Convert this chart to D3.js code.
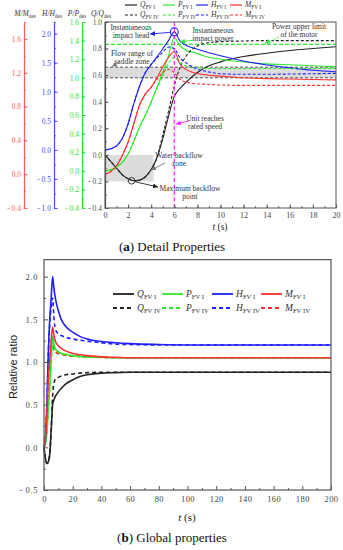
<!DOCTYPE html>
<html>
<head>
<meta charset="utf-8">
<script src="https://cdnjs.cloudflare.com/ajax/libs/d3/7.8.5/d3.min.js"></script>
<style>
  body { margin: 0; background: #fff; }
  svg { display: block; font-family: "Liberation Serif", "DejaVu Serif", serif; }
</style>
</head>
<body>
<div id="chart"></div>
<script>
// ---- (a) detail properties, 0-20 s, each quantity on its own axis
var tDetail = [0,0.5,1,1.5,2,2.5,3,3.5,4,4.5,5,5.5,6,6.5,7,8,9,10,12,14,16,18,20];
var qDetail1 = [0,-0.05,-0.1,-0.15,-0.18,-0.195,-0.19,-0.165,-0.11,-0.02,0.12,0.29,0.44,0.5,0.545,0.62,0.67,0.7,0.74,0.765,0.785,0.8,0.814];
var qDetail4 = [0,-0.05,-0.1,-0.15,-0.18,-0.195,-0.19,-0.165,-0.11,-0.02,0.15,0.33,0.52,0.66,0.74,0.82,0.845,0.852,0.857,0.86,0.86,0.86,0.86];
var pDetail1 = [0,0.01,0.04,0.09,0.18,0.32,0.47,0.6,0.74,0.9,1.06,1.24,1.43,1.34,1.3,1.26,1.22,1.2,1.17,1.15,1.14,1.13,1.12];
var pDetail4 = [0,0.01,0.04,0.09,0.18,0.32,0.47,0.6,0.74,0.88,1.02,1.16,1.22,1.16,1.13,1.11,1.1,1.1,1.1,1.1,1.1,1.1,1.1];
var hDetail1 = [0,0.02,0.07,0.2,0.45,0.8,1.1,1.33,1.47,1.6,1.74,1.88,2.03,1.87,1.8,1.73,1.67,1.62,1.53,1.46,1.41,1.37,1.345];
var hDetail4 = [0,0.02,0.07,0.2,0.45,0.8,1.1,1.33,1.47,1.58,1.68,1.77,1.74,1.58,1.5,1.39,1.34,1.31,1.3,1.3,1.305,1.31,1.317];
var mDetail1 = [0,0.03,0.1,0.22,0.38,0.6,0.82,0.95,1.03,1.14,1.27,1.38,1.45,1.3,1.24,1.19,1.17,1.16,1.14,1.13,1.125,1.12,1.115];
var mDetail4 = [0,0.03,0.1,0.22,0.38,0.6,0.82,0.95,1.03,1.12,1.2,1.24,1.2,1.12,1.09,1.07,1.06,1.055,1.05,1.05,1.05,1.05,1.05];

var saddleBand = [0.58, 0.66];      // Q/Qdes
var powerLimit = 1.36;              // P/Pdes
var backflowZone = { t: [0, 4.2], q: [-0.2, 0] };
var maxBackflow = { t: 2.3, q: -0.195 };
var ratedSpeedT = 6;
var peakHead = { t: 6, h: 2.03 };

var mTicks = [-0.4,0,0.4,0.8,1.2,1.6];
var hTicks = [-1,-0.5,0,0.5,1,1.5,2];
var pTicks = [-0.4,-0.2,0,0.2,0.4,0.6,0.8,1,1.2,1.4,1.6];
var qTicks = [-0.4,-0.2,0,0.2,0.4,0.6,0.8,1];
var tTicksDetail = [0,2,4,6,8,10,12,14,16,18,20];

// ---- (b) global properties, 0-200 s
var tGlobal = [0,1,2,3,4,5,6,7,8,10,12,15,20,25,30,40,50,60,80,100,150,200];
var qGlobal1 = [0,-0.13,-0.19,-0.17,-0.08,0.2,0.5,0.56,0.6,0.65,0.69,0.74,0.79,0.83,0.85,0.87,0.875,0.88,0.88,0.88,0.88,0.88];
var qGlobal4 = [0,-0.13,-0.19,-0.17,-0.08,0.2,0.6,0.76,0.8,0.82,0.835,0.85,0.86,0.87,0.875,0.88,0.88,0.88,0.88,0.88,0.88,0.88];
var pGlobal1 = [0,0.04,0.18,0.45,0.72,1.02,1.3,1.2,1.15,1.12,1.1,1.09,1.075,1.065,1.06,1.055,1.05,1.05,1.05,1.05,1.05,1.05];
var pGlobal4 = [0,0.04,0.18,0.45,0.72,0.98,1.2,1.13,1.11,1.1,1.09,1.08,1.07,1.063,1.058,1.053,1.05,1.05,1.05,1.05,1.05,1.05];
var hGlobal1 = [0,0.1,0.5,1.1,1.5,1.75,2.0,1.85,1.74,1.6,1.5,1.42,1.35,1.3,1.27,1.24,1.225,1.215,1.205,1.2,1.2,1.2];
var hGlobal4 = [0,0.1,0.5,1.1,1.45,1.65,1.75,1.5,1.38,1.33,1.31,1.29,1.27,1.255,1.245,1.225,1.21,1.205,1.2,1.2,1.2,1.2];
var mGlobal1 = [0,0.12,0.4,0.8,1.02,1.25,1.41,1.3,1.24,1.19,1.16,1.13,1.1,1.085,1.075,1.06,1.055,1.05,1.05,1.05,1.05,1.05];
var mGlobal4 = [0,0.12,0.4,0.8,1.02,1.18,1.25,1.15,1.12,1.1,1.09,1.08,1.07,1.065,1.06,1.055,1.05,1.05,1.05,1.05,1.05,1.05];

var ratioTicks = [-0.5,0,0.5,1,1.5,2];
var tTicksGlobal = [0,20,40,60,80,100,120,140,160,180,200];

var BLACK = "#222", GREEN = "#2ee82e", BLUE = "#1f1fff", RED = "#ff2d2d", MAGENTA = "#ff22ff", FRAME = "#555";

var svg = d3.select("#chart").append("svg").attr("width", 343).attr("height", 550);

// arrow markers
var defs = svg.append("defs");
function marker(id, color) {
  defs.append("marker").attr("id", id)
    .attr("viewBox", "0 0 6 6").attr("refX", 6).attr("refY", 3)
    .attr("markerWidth", 5).attr("markerHeight", 5)
    .attr("markerUnits", "userSpaceOnUse").attr("orient", "auto")
    .append("path").attr("d", "M0,0L6,3L0,6Z").attr("fill", color);
}
marker("arBlue", BLUE); marker("arGreen", GREEN); marker("arGray", "#777");
marker("arMag", MAGENTA); marker("arBlack", BLACK);

function fmtSigned(f) {
  return function(d) { return d < 0 ? "- " + f(-d) : f(d); };
}

// text with italic symbol + subscript
function rich(sel, parts, size) {
  parts.forEach(function(p) {
    var ts = sel.append("tspan").text(p.t);
    if (p.i) ts.attr("font-style", "italic");
    if (p.sub) ts.attr("font-size", size * 0.7).attr("dy", size * 0.25);
  });
}

function drawSeries(g, x, y, ts, vals, color, dashed, w, dash) {
  var line = d3.line().x(function(d, i) { return x(ts[i]); })
    .y(function(d) { return y(d); }).curve(d3.curveMonotoneX);
  g.append("path").datum(vals).attr("d", line)
    .attr("fill", "none").attr("stroke", color).attr("stroke-width", w)
    .attr("stroke-dasharray", dashed ? dash : null);
}

// ================= (a) =================
var xA = d3.scaleLinear().domain([0, 20]).range([105, 336]);
var yQ = d3.scaleLinear().domain([-0.4, 1.0]).range([208, 22]);
var yP = d3.scaleLinear().domain([-0.4, 1.6]).range([208, 22]);
var yH = d3.scaleLinear().domain([-1.0, 2.2]).range([208, 22]);
var yM = d3.scaleLinear().domain([-0.4, 1.8]).range([208, 22]);

var gA = svg.append("g");

// shaded zones
gA.append("rect")
  .attr("x", xA(backflowZone.t[0])).attr("width", xA(backflowZone.t[1]) - xA(backflowZone.t[0]))
  .attr("y", yQ(backflowZone.q[1])).attr("height", yQ(backflowZone.q[0]) - yQ(backflowZone.q[1]))
  .attr("fill", "#dcdcdc");
gA.append("rect")
  .attr("x", xA(0)).attr("width", xA(20) - xA(0))
  .attr("y", yQ(saddleBand[1])).attr("height", yQ(saddleBand[0]) - yQ(saddleBand[1]))
  .attr("fill", "#dcdcdc");
saddleBand.forEach(function(v) {
  gA.append("line").attr("x1", xA(0)).attr("x2", xA(20)).attr("y1", yQ(v)).attr("y2", yQ(v))
    .attr("stroke", "#444").attr("stroke-width", 0.9).attr("stroke-dasharray", "3,2");
});
gA.append("line").attr("x1", xA(0)).attr("x2", xA(20)).attr("y1", yP(powerLimit)).attr("y2", yP(powerLimit))
  .attr("stroke", GREEN).attr("stroke-width", 1.2).attr("stroke-dasharray", "4,2");

// curves
var detailSeries = [
  [qDetail1, yQ, BLACK, false], [pDetail1, yP, GREEN, false],
  [hDetail1, yH, BLUE, false], [mDetail1, yM, RED, false],
  [qDetail4, yQ, BLACK, true], [pDetail4, yP, GREEN, true],
  [hDetail4, yH, BLUE, true], [mDetail4, yM, RED, true]
];
detailSeries.forEach(function(s) { drawSeries(gA, xA, s[1], tDetail, s[0], s[2], s[3], 1.1, "3,2"); });

// rated speed line
gA.append("line").attr("x1", xA(ratedSpeedT)).attr("x2", xA(ratedSpeedT)).attr("y1", 22).attr("y2", 208)
  .attr("stroke", MAGENTA).attr("stroke-width", 1.2).attr("stroke-dasharray", "4,2.5");

// frame
gA.append("rect").attr("x", 105).attr("y", 22).attr("width", 231).attr("height", 186)
  .attr("fill", "none").attr("stroke", FRAME).attr("stroke-width", 1);

// left axes
var leftAxes = [
  { s: yM, x: 24, tx: 25, ticks: mTicks, minor: 0.2, color: "#ff5c5c", title: "M" },
  { s: yH, x: 54, tx: 52, ticks: hTicks, minor: 0.25, color: "#4a4aff", title: "H" },
  { s: yP, x: 82, tx: 77, ticks: pTicks, minor: 0.1, color: "#33dd33", title: "P" },
  { s: yQ, x: 105, tx: 101, ticks: qTicks, minor: 0.1, color: FRAME, title: "Q" }
];
leftAxes.forEach(function(a) {
  var dom = a.s.domain();
  var minors = d3.range(Math.ceil(dom[0] / a.minor - 1e-6), Math.floor(dom[1] / a.minor + 1e-6) + 1)
    .map(function(k) { return +(k * a.minor).toFixed(3); });
  var gm = svg.append("g").attr("transform", "translate(" + a.x + ",0)")
    .call(d3.axisLeft(a.s).tickValues(minors).tickSize(-1.8).tickFormat(""));
  gm.select(".domain").attr("stroke", a.color).attr("stroke-width", 1.2);
  gm.selectAll(".tick line").attr("stroke", a.color);
  var g = svg.append("g").attr("transform", "translate(" + a.x + ",0)")
    .call(d3.axisLeft(a.s).tickValues(a.ticks).tickSizeInner(-3.5).tickSizeOuter(0).tickPadding(3)
      .tickFormat(fmtSigned(d3.format(".1f"))));
  g.select(".domain").remove();
  g.selectAll(".tick line").attr("stroke", a.color);
  g.selectAll(".tick text").attr("fill", a.color).attr("font-size", 7.5)
    .attr("font-family", "Liberation Serif");
  var tt = svg.append("text").attr("x", a.tx).attr("y", 16)
    .attr("text-anchor", "middle").attr("font-size", 7.5).attr("fill", "#333");
  rich(tt, [{ t: a.title, i: true }, { t: "/", i: true }, { t: a.title, i: true }, { t: "des", sub: true }], 7.5);
});

// x axis (a)
var gxA = svg.append("g").attr("transform", "translate(0,208)");
gxA.call(d3.axisBottom(xA).tickValues(d3.range(0, 21, 1)).tickSize(-1.8).tickFormat(""));
gxA.select(".domain").remove();
gxA.selectAll("line").attr("stroke", FRAME);
var gxA2 = svg.append("g").attr("transform", "translate(0,208)");
gxA2.call(d3.axisBottom(xA).tickValues(tTicksDetail).tickSizeInner(-3.5).tickSizeOuter(0).tickPadding(4));
gxA2.select(".domain").remove();
gxA2.selectAll("line").attr("stroke", FRAME);
gxA2.selectAll("text").attr("font-size", 8).attr("fill", "#444").attr("font-family", "Liberation Serif");
var xlA = svg.append("text").attr("x", 220).attr("y", 230).attr("text-anchor", "middle")
  .attr("font-size", 9.5).attr("fill", "#222");
rich(xlA, [{ t: "t", i: true }, { t: " (s)" }], 9.5);

// legend (shared for both panels)
var legendNames = ["Q", "P", "H", "M"];
var legendColors = [BLACK, GREEN, BLUE, RED];
var legendSubs = ["FV I", "FV IV"];
function legend(xs, ys, len, size, w, dash) {
  ys.forEach(function(yy, r) {
    legendNames.forEach(function(n, i) {
      svg.append("line").attr("x1", xs[i]).attr("x2", xs[i] + len).attr("y1", yy).attr("y2", yy)
        .attr("stroke", legendColors[i]).attr("stroke-width", w)
        .attr("stroke-dasharray", r ? dash : null);
      var t = svg.append("text").attr("x", xs[i] + len + 3).attr("y", yy + size * 0.3)
        .attr("font-size", size).attr("fill", "#333");
      rich(t, [{ t: n, i: true }, { t: legendSubs[r], sub: true }], size);
    });
  });
}
legend([125, 163, 196, 230], [5, 15], 12, 7.5, 1.2, "3,2");

// annotations (a)
function note(lines, x, y, size, anchor) {
  var t = svg.append("text").attr("font-size", size).attr("fill", "#333")
    .attr("text-anchor", anchor || "middle");
  lines.forEach(function(l, i) {
    t.append("tspan").attr("x", x).attr("y", y + i * 8.2).text(l);
  });
}
function arrow(x1, y1, x2, y2, color, mk, dash) {
  svg.append("line").attr("x1", x1).attr("y1", y1).attr("x2", x2).attr("y2", y2)
    .attr("stroke", color).attr("stroke-width", 0.9)
    .attr("stroke-dasharray", dash || null).attr("marker-end", "url(#" + mk + ")");
}
svg.append("circle").attr("cx", xA(peakHead.t)).attr("cy", yH(peakHead.h)).attr("r", 4)
  .attr("fill", "none").attr("stroke", BLUE).attr("stroke-width", 1.1);
note(["Instantaneous", "impact head"], 131, 30, 7.5);
arrow(xA(peakHead.t) - 4.5, yH(peakHead.h) + 0.5, 150, 34, BLUE, "arBlue");

note(["Instantaneous", "impact power"], 213, 33, 7.5);
arrow(194, 40, 180, 42, GREEN, "arGreen");

note(["Power upper limit", "of the motor"], 299, 29, 7.5);
arrow(279, 37, 265, yP(powerLimit) - 1, GREEN, "arGreen", "2,1.5");

note(["Flow range of", "saddle zone"], 132, 56, 7.5);
arrow(119, 62, 112, yQ(saddleBand[1]) - 0.5, "#777", "arGray", "2,1.5");

note(["Unit reaches", "rated speed"], 205, 121, 7.5);
arrow(189, 121, xA(ratedSpeedT) + 1.5, 124, MAGENTA, "arMag");

note(["Water backflow", "zone"], 179, 158, 7.5);
arrow(165, 163, 151, 170, "#777", "arGray");

svg.append("circle").attr("cx", xA(maxBackflow.t)).attr("cy", yQ(maxBackflow.q)).attr("r", 3.3)
  .attr("fill", "none").attr("stroke", BLACK).attr("stroke-width", 0.9);
note(["Maximum backflow", "point"], 190, 191, 7.5);
arrow(xA(maxBackflow.t) + 3.5, yQ(maxBackflow.q) + 1, 158, 187, BLACK, "arBlack");

// caption (a)
var capA = svg.append("text").attr("x", 172).attr("y", 251).attr("text-anchor", "middle")
  .attr("font-size", 13).attr("fill", "#111");
capA.append("tspan").text("(");
capA.append("tspan").attr("font-weight", "bold").text("a");
capA.append("tspan").text(") Detail Properties");

// ================= (b) =================
var xB = d3.scaleLinear().domain([0, 200]).range([44, 331]);
var yB = d3.scaleLinear().domain([-0.5, 2.2]).range([490, 259.6]);
var gB = svg.append("g");

var globalSeries = [
  [qGlobal4, BLACK, true], [pGlobal4, GREEN, true], [hGlobal4, BLUE, true], [mGlobal4, RED, true],
  [qGlobal1, BLACK, false], [pGlobal1, GREEN, false], [hGlobal1, BLUE, false], [mGlobal1, RED, false]
];
globalSeries.forEach(function(s) { drawSeries(gB, xB, yB, tGlobal, s[0], s[1], s[2], 1.6, "4,3"); });

gB.append("rect").attr("x", 44).attr("y", 259.6).attr("width", 287).attr("height", 230.4)
  .attr("fill", "none").attr("stroke", FRAME).attr("stroke-width", 1.2);

var gyBm = svg.append("g").attr("transform", "translate(44,0)")
  .call(d3.axisLeft(yB).tickValues(d3.range(-0.25, 2.01, 0.5)).tickSize(-2).tickFormat(""));
gyBm.select(".domain").remove(); gyBm.selectAll("line").attr("stroke", FRAME);
var gyB = svg.append("g").attr("transform", "translate(44,0)")
  .call(d3.axisLeft(yB).tickValues(ratioTicks).tickSizeInner(-4).tickSizeOuter(0).tickPadding(6)
    .tickFormat(fmtSigned(d3.format(".1f"))));
gyB.select(".domain").remove(); gyB.selectAll("line").attr("stroke", FRAME);
gyB.selectAll("text").attr("font-size", 8.5).attr("fill", "#444").attr("letter-spacing", 0.6)
  .attr("font-family", "Liberation Serif");

var gxBm = svg.append("g").attr("transform", "translate(0,490)")
  .call(d3.axisBottom(xB).tickValues(d3.range(10, 200, 20)).tickSize(-2).tickFormat(""));
gxBm.select(".domain").remove(); gxBm.selectAll("line").attr("stroke", FRAME);
var gxB = svg.append("g").attr("transform", "translate(0,490)")
  .call(d3.axisBottom(xB).tickValues(tTicksGlobal).tickSizeInner(-4).tickSizeOuter(0).tickPadding(6));
gxB.select(".domain").remove(); gxB.selectAll("line").attr("stroke", FRAME);
gxB.selectAll("text").attr("font-size", 8.5).attr("fill", "#444").attr("letter-spacing", 0.4)
  .attr("font-family", "Liberation Serif");

svg.append("text").attr("transform", "translate(17,367) rotate(-90)").attr("text-anchor", "middle")
  .attr("font-family", "Liberation Sans").attr("font-size", 11).attr("fill", "#222").text("Relative ratio");
var xlB = svg.append("text").attr("x", 187).attr("y", 521).attr("text-anchor", "middle")
  .attr("font-size", 11).attr("fill", "#222");
rich(xlB, [{ t: "t", i: true }, { t: " (s)" }], 11);

legend([113, 162, 212, 261], [294, 308], 21, 9.5, 1.8, "4,3");

var capB = svg.append("text").attr("x", 172).attr("y", 542).attr("text-anchor", "middle")
  .attr("font-size", 13).attr("fill", "#111");
capB.append("tspan").text("(");
capB.append("tspan").attr("font-weight", "bold").text("b");
capB.append("tspan").text(") Global properties");
</script>
</body>
</html>
